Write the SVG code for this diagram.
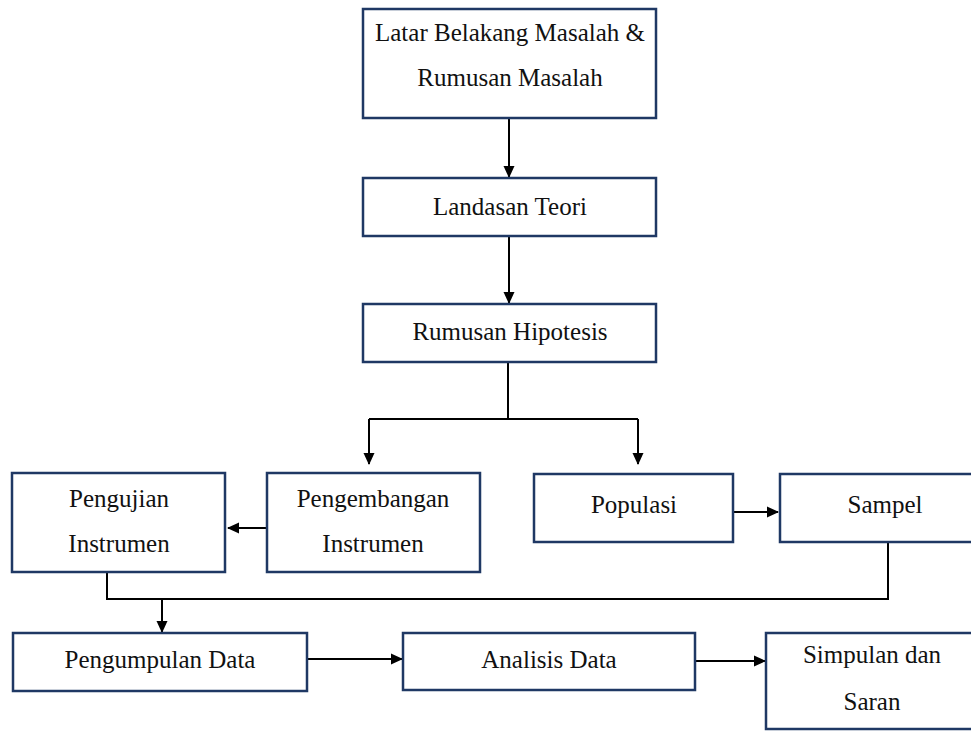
<svg xmlns="http://www.w3.org/2000/svg" width="971" height="731" viewBox="0 0 971 731">
<style>
.box{fill:#fff;stroke:#1f3864;stroke-width:2.5}
.t{font-family:'Liberation Serif','DejaVu Serif',serif;font-size:25px;fill:#111;text-anchor:middle}
.c{fill:none;stroke:#000;stroke-width:2}
</style>
<defs>
<marker id="ah" markerWidth="12" markerHeight="12" refX="11" refY="6" orient="auto" markerUnits="userSpaceOnUse" viewBox="0 0 12 12">
<path d="M0,0.5 L12,6 L0,11.5 Z" fill="#000"/>
</marker>
</defs>
<rect width="971" height="731" fill="#fff"/>
<g id="connectors">
<line class="c" x1="509" y1="118" x2="509" y2="177" marker-end="url(#ah)"/>
<line class="c" x1="509" y1="236" x2="509" y2="303" marker-end="url(#ah)"/>
<polyline class="c" points="508,362 508,419"/>
<polyline class="c" points="369,419 638,419"/>
<line class="c" x1="369" y1="419" x2="369" y2="464" marker-end="url(#ah)"/>
<line class="c" x1="638" y1="419" x2="638" y2="464" marker-end="url(#ah)"/>
<line class="c" x1="267" y1="528" x2="228" y2="528" marker-end="url(#ah)"/>
<line class="c" x1="733" y1="512" x2="778" y2="512" marker-end="url(#ah)"/>
<polyline class="c" points="107,572 107,599 888,599 888,542"/>
<line class="c" x1="162" y1="599" x2="162" y2="632" marker-end="url(#ah)"/>
<line class="c" x1="307" y1="659" x2="402" y2="659" marker-end="url(#ah)"/>
<line class="c" x1="695" y1="661" x2="765" y2="661" marker-end="url(#ah)"/>
</g>
<g id="latar">
<rect class="box" x="363" y="9" width="293" height="109"/>
<text class="t" x="510" y="41">Latar Belakang Masalah &amp;</text>
<text class="t" x="510" y="86">Rumusan Masalah</text>
</g>
<g id="landasan">
<rect class="box" x="363" y="178" width="293" height="58"/>
<text class="t" x="510" y="215">Landasan Teori</text>
</g>
<g id="hipotesis">
<rect class="box" x="363" y="304" width="293" height="58"/>
<text class="t" x="510" y="340">Rumusan Hipotesis</text>
</g>
<g id="pengujian">
<rect class="box" x="12" y="473" width="213" height="99"/>
<text class="t" x="119" y="507">Pengujian</text>
<text class="t" x="119" y="552">Instrumen</text>
</g>
<g id="pengembangan">
<rect class="box" x="267" y="473" width="213" height="99"/>
<text class="t" x="373" y="507">Pengembangan</text>
<text class="t" x="373" y="552">Instrumen</text>
</g>
<g id="populasi">
<rect class="box" x="534" y="474" width="199" height="68"/>
<text class="t" x="634" y="513">Populasi</text>
</g>
<g id="sampel">
<rect class="box" x="780" y="474" width="210" height="68"/>
<text class="t" x="885" y="513">Sampel</text>
</g>
<g id="pengumpulan">
<rect class="box" x="13" y="633" width="294" height="58"/>
<text class="t" x="160" y="668">Pengumpulan Data</text>
</g>
<g id="analisis">
<rect class="box" x="403" y="633" width="292" height="57"/>
<text class="t" x="549" y="668">Analisis Data</text>
</g>
<g id="simpulan">
<rect class="box" x="766" y="633" width="214" height="96"/>
<text class="t" x="872" y="663">Simpulan dan</text>
<text class="t" x="872" y="710">Saran</text>
</g>
</svg>
